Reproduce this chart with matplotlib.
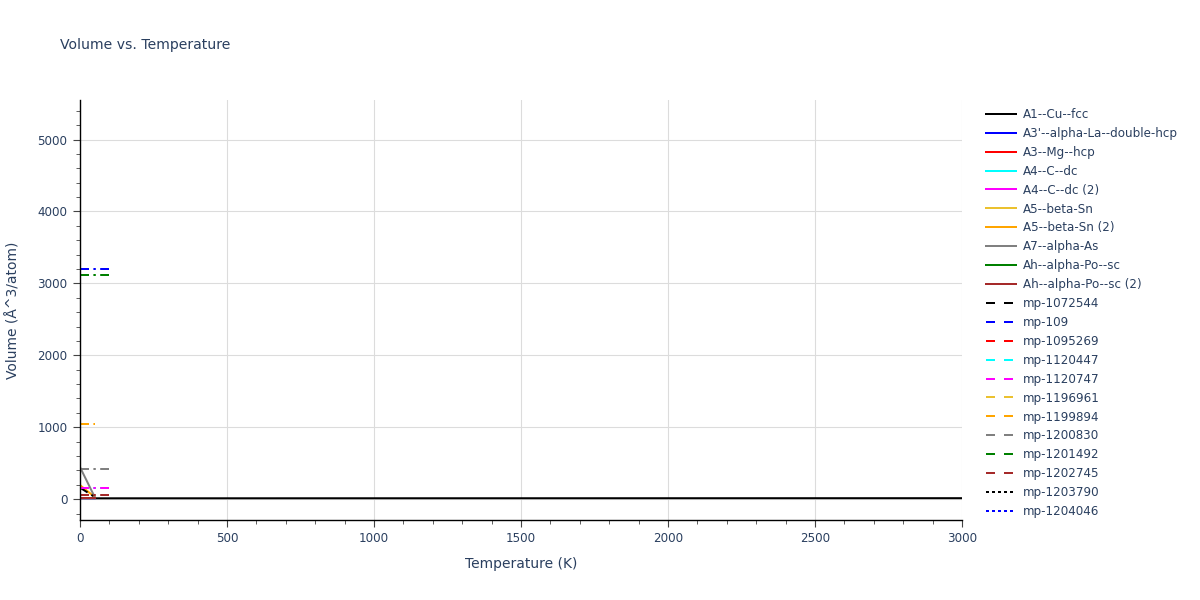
import matplotlib
matplotlib.use('Agg')
import matplotlib.pyplot as plt
from matplotlib.lines import Line2D
from matplotlib.ticker import MultipleLocator

plt.rcParams['font.family'] = ['DejaVu Sans']
TXT = '#2a3f5f'

# series: name, colour, style, temperatures (K), volumes (A^3/atom)
names = ['A1--Cu--fcc', "A3'--alpha-La--double-hcp", 'A3--Mg--hcp', 'A4--C--dc',
         'A4--C--dc (2)', 'A5--beta-Sn', 'A5--beta-Sn (2)', 'A7--alpha-As',
         'Ah--alpha-Po--sc', 'Ah--alpha-Po--sc (2)',
         'mp-1072544', 'mp-109', 'mp-1095269', 'mp-1120447', 'mp-1120747',
         'mp-1196961', 'mp-1199894', 'mp-1200830', 'mp-1201492', 'mp-1202745',
         'mp-1203790', 'mp-1204046']
colors = ['black', 'blue', 'red', 'cyan', 'magenta', '#ebc12f', 'orange', 'gray',
          'green', 'brown',
          'black', 'blue', 'red', 'cyan', 'magenta', '#ebc12f', 'orange', 'gray',
          'green', 'brown', 'black', 'blue']
styles = ['solid'] * 10 + ['dash'] * 10 + ['dot'] * 2

temps = [
    [0, 500, 1000, 1500, 2000, 2500, 3000],
    [0, 50], [0, 50], [0, 50], [0, 50], [0, 50], [0, 50], [0, 50], [0, 50], [0, 50],
    [0, 50], [0, 50, 100], [0], [0, 50, 90], [0, 50, 100], [0],
    [0, 50], [0, 50, 100], [0, 50, 100], [0, 50, 100],
    [0], [0],
]
volumes = [
    [11.8, 12.0, 12.3, 12.6, 12.9, 13.2, 13.5],
    [14, 13], [12, 12], [11, 11], [11, 11], [12, 12], [195, 30], [445, 30],
    [12, 12], [12, 12],
    [160, 30], [3200, 3200, 3200], [23], [152, 152, 152], [152, 152, 152],
    [27], [1040, 1040], [418, 418, 418], [3110, 3110, 3110], [52, 52, 52],
    [12], [14],
]

fig = plt.figure(figsize=(12, 6), dpi=100)
ax = fig.add_axes([80 / 1200, 80 / 600, 882 / 1200, 420 / 600])

lw = 1.44
plot_dash = {'dash': (0, (4.5, 2.2, 1.2, 2.2)), 'dot': (0, (1.5, 1.5))}
leg_dash = {'dash': (0, (4.5, 4.5)), 'dot': (0, (1.5, 1.5))}

handles = []
for name, c, st, t, v in zip(names, colors, styles, temps, volumes):
    ls = 'solid' if st == 'solid' else plot_dash[st]
    ax.plot(t, v, color=c, lw=lw, linestyle=ls)
    lls = 'solid' if st == 'solid' else leg_dash[st]
    handles.append(Line2D([], [], color=c, lw=lw, linestyle=lls, label=name))

ax.set_xlim(0, 3000)
ax.set_ylim(-290, 5550)
ax.xaxis.set_major_locator(MultipleLocator(500))
ax.xaxis.set_minor_locator(MultipleLocator(100))
ax.yaxis.set_major_locator(MultipleLocator(1000))
ax.yaxis.set_minor_locator(MultipleLocator(200))
ax.grid(True, which='major', color='#dcdcdc', lw=0.8)
ax.set_axisbelow(True)
for s in ['top', 'right']:
    ax.spines[s].set_visible(False)
for s in ['left', 'bottom']:
    ax.spines[s].set_color('black')
    ax.spines[s].set_linewidth(1)
ax.tick_params(which='major', direction='out', length=5, color='#444444',
               labelcolor=TXT, labelsize=8.6, pad=4)
ax.tick_params(which='minor', direction='out', length=3, color='#444444')
ax.set_xlabel('Temperature (K)', color=TXT, fontsize=10, labelpad=8)
ax.set_ylabel('Volume (Å^3/atom)', color=TXT, fontsize=10, labelpad=12)

fig.text(60 / 1200, 1 - 45 / 600, 'Volume vs. Temperature', color=TXT,
         fontsize=10.1, va='center', ha='left')

leg = fig.legend(handles=handles, loc='upper left', bbox_to_anchor=(0.818, 0.828),
                 frameon=False, fontsize=8.6, handlelength=2.5, handletextpad=0.55,
                 labelspacing=0.495, borderaxespad=0)
for t in leg.get_texts():
    t.set_color(TXT)

fig.savefig('out.png', dpi=100)
